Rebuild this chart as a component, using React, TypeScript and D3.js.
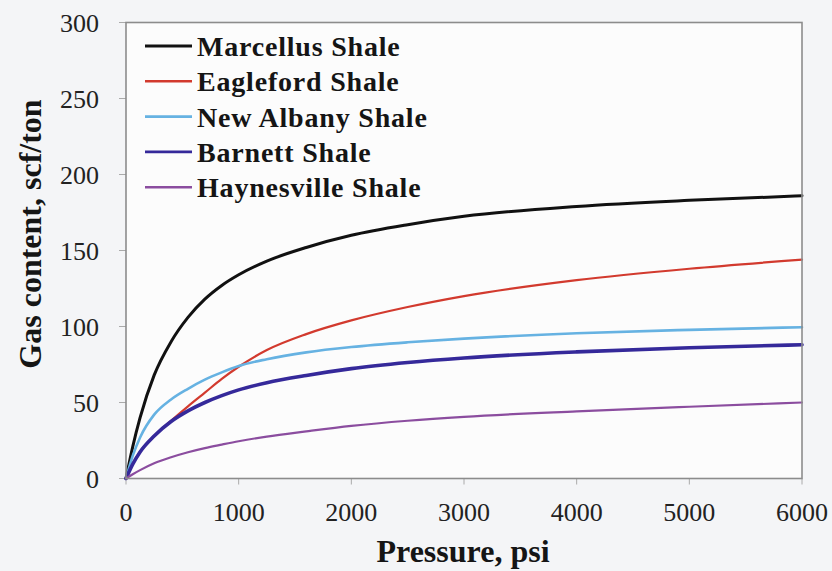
import React from "react";
import * as d3 from "d3";

const pressure = [0, 60, 125, 250, 400, 550, 700, 850, 1000, 1250, 1600, 2000, 2500, 3000, 4000, 5000, 6000];
const marcellus = [0, 21, 40, 68, 90, 106, 118, 127, 134, 143, 152, 160, 167, 172.5, 179, 183, 186];
const eagleford = [0, 9.5, 17.5, 28, 38, 47.5, 56.5, 65.5, 73.5, 84.5, 95, 104, 112.8, 120, 130.5, 138, 144];
const newAlbany = [0, 15, 27, 42, 52, 59, 65, 69.8, 74, 78.5, 83, 86.5, 89.6, 92, 95.6, 97.8, 99.5];
const barnett = [0, 9.5, 17.5, 28, 37.5, 44.5, 50, 54.5, 58.3, 63, 67.8, 72.3, 76.3, 79.3, 83.3, 86, 88];
const haynesville = [0, 2.8, 5.5, 10, 14, 17.3, 20, 22.3, 24.5, 27.6, 31, 34.6, 38, 40.6, 44.2, 47.2, 50];

const seriesNames = ["Marcellus Shale", "Eagleford Shale", "New Albany Shale", "Barnett Shale", "Haynesville Shale"];
const seriesValues = [marcellus, eagleford, newAlbany, barnett, haynesville];
const seriesColors = ["#111111", "#d23a2e", "#66b2e2", "#35299a", "#8b4d9f"];
const seriesWidths = [3, 2.2, 2.6, 3.6, 2.2];

const xTicks = [0, 1000, 2000, 3000, 4000, 5000, 6000];
const yTicks = [0, 50, 100, 150, 200, 250, 300];

const W = 832, H = 571;
const L = 126, R = 802, T = 22.5, B = 478.5;
const FONT = '"Liberation Serif", Tinos, "Times New Roman", serif';

export default function App() {
  const x = d3.scaleLinear().domain([0, 6000]).range([L, R]);
  const y = d3.scaleLinear().domain([0, 300]).range([B, T]);
  const line = d3
    .line<number>()
    .x((_, i) => x(pressure[i]))
    .y((d) => y(d))
    .curve(d3.curveMonotoneX);
  const ts = (size: number, bold?: boolean, spacing?: number) => ({
    fontFamily: FONT,
    fontSize: size,
    fontWeight: bold ? "bold" : "normal",
    letterSpacing: spacing || 0,
  });
  return (
    <svg width={W} height={H} style={{ position: "absolute", left: 0, top: 0 }}>
      <rect x={0} y={0} width={W} height={H} fill="#f4f5f7" />
      <rect x={L} y={T} width={R - L} height={B - T} fill="#fcfcfc" />
      {yTicks.map((t) => (
        <line key={"yt" + t} x1={L - 7} x2={L} y1={y(t)} y2={y(t)} stroke="#aaa" strokeWidth={1} />
      ))}
      {yTicks.map((t) => (
        <text key={"yl" + t} x={99} y={y(t) + 9} textAnchor="end" style={ts(26)} fill="#222">
          {String(t)}
        </text>
      ))}
      {xTicks.map((t) => (
        <line key={"xt" + t} x1={x(t)} x2={x(t)} y1={B} y2={B + 6} stroke="#aaa" strokeWidth={1} />
      ))}
      {xTicks.map((t) => (
        <text key={"xl" + t} x={x(t)} y={521} textAnchor="middle" style={ts(26)} fill="#222">
          {String(t)}
        </text>
      ))}
      {seriesValues.map((vals, i) => (
        <path key={seriesNames[i]} d={line(vals) || ""} fill="none" stroke={seriesColors[i]} strokeWidth={seriesWidths[i]} strokeLinecap="round" />
      ))}
      <rect x={L} y={T} width={R - L} height={B - T} fill="none" stroke="#8c8c8c" strokeWidth={1.6} />
      {seriesNames.map((n, i) => (
        <line key={"ll" + n} x1={145} x2={192} y1={46 + i * 35.3} y2={46 + i * 35.3} stroke={seriesColors[i]} strokeWidth={i === 0 ? 3 : 2.6} />
      ))}
      {seriesNames.map((n, i) => (
        <text key={"lt" + n} x={197} y={56 + i * 35.3} style={ts(28, true, 0.8)} fill="#151515">
          {n}
        </text>
      ))}
      <text x={463} y={562} textAnchor="middle" style={ts(32, true)} fill="#151515">
        Pressure, psi
      </text>
      <text transform="translate(41,234) rotate(-90)" textAnchor="middle" style={ts(32, true)} fill="#151515">
        Gas content, scf/ton
      </text>
    </svg>
  );
}
